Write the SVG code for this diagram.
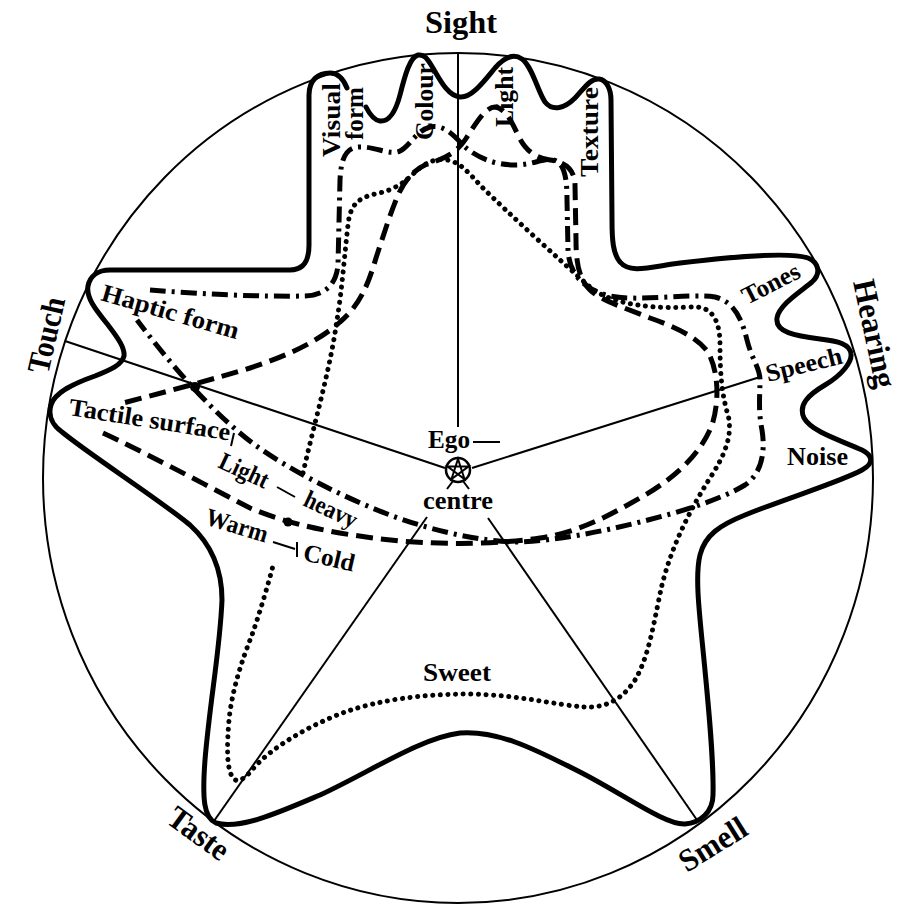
<svg xmlns="http://www.w3.org/2000/svg" width="903" height="907" viewBox="0 0 903 907">
<style>
.thin{fill:none;stroke:#000;stroke-width:2}
.thick{fill:none;stroke:#000;stroke-width:5;stroke-linejoin:round;stroke-linecap:round}
.dd{fill:none;stroke:#000;stroke-width:5;stroke-dasharray:16 6 3 6}
.ld{fill:none;stroke:#000;stroke-width:5;stroke-dasharray:17 8}
.dot{fill:none;stroke:#000;stroke-width:5;stroke-linecap:round;stroke-dasharray:0.1 7.5}
text{font-family:"Liberation Serif","Times New Roman",serif;font-weight:bold;fill:#000}
.big{font-size:32px}
.lab{font-size:25px}
</style>
<rect width="903" height="907" fill="#fff"/>
<g id="frame">
<ellipse class="thin" cx="458" cy="478" rx="415" ry="425"/>
</g>
<g id="connectors">
<line class="thin" x1="458" y1="53" x2="458" y2="427"/>
<line class="thin" x1="65" y1="341" x2="445" y2="468"/>
<line class="thin" x1="472" y1="468" x2="760" y2="377"/>
<line class="thin" x1="427" y1="517" x2="214" y2="821"/>
<line class="thin" x1="488" y1="518" x2="697" y2="820"/>
</g>
<g id="outline">
<path class="thick" d="M347,88 C343,78 337,73 330,73 C318,73 309,80 309,95 L309,245 C309,262 303,270 290,270 L110,270 C98,270 90,276 88,286 C86,298 96,310 108,325 C118,338 125,348 124,356 C122,365 110,370 95,376 C75,383 55,392 51,405 C48,415 52,425 62,432 C90,455 160,500 190,525 C212,545 222,570 222,600 C220,650 210,700 205,760 C202,800 204,818 216,823 C240,830 280,812 320,795 C370,772 420,738 460,733 C500,730 540,752 580,772 C625,795 665,825 685,824 C700,823 713,812 713,795 C714,760 708,700 703,650 C699,610 695,575 700,555 C705,535 720,525 745,515 C790,497 840,482 862,470 C875,463 872,455 862,450 C840,440 812,432 804,418 C798,405 808,395 825,385 C842,375 852,362 851,354 C850,344 838,341 820,339 C795,336 775,332 777,318 C779,305 800,292 812,282 C822,273 818,262 808,258 C790,252 730,257 680,263 C650,267 630,274 620,262 C613,254 612,240 612,220 L611,100 C611,90 607,80 599,79 C590,78 583,90 575,98 C565,108 553,112 545,102 C538,92 532,66 522,59 C512,52 502,60 495,68 C485,80 472,98 460,97 C448,96 440,80 433,68 C428,60 425,54 418,55 C410,57 405,75 400,95 C396,110 390,122 380,121 C373,120 369,113 366,107"/>
</g>
<g id="haptic-curve">
<path class="dd" d="M150,290 C200,294 260,297 305,296 C325,295 336,285 338,265 L340,180 C341,160 345,148 358,147 C375,146 390,156 400,151 C410,146 416,131 430,127 C445,124 455,137 465,147 C478,158 495,165 515,165 C535,165 548,155 558,162 C566,168 567,185 567,200 L568,250 C569,275 585,290 610,296 C640,302 690,293 715,297 C735,302 742,320 747,340 C752,360 760,368 760,380 C760,395 758,410 762,430 C766,455 760,475 745,485 C720,500 680,512 640,522 C600,532 560,540 520,542 C480,542 430,530 390,515 C340,496 290,470 255,445 C215,415 175,370 137,320"/>
</g>
<g id="tactile-curve">
<path class="ld" d="M103,433 C140,450 200,482 250,508 C290,525 340,535 400,541 C450,545 500,544 540,538 C580,532 610,515 640,498 C675,478 700,455 712,425 C720,400 718,370 708,352 C695,335 670,325 650,318 C625,308 600,300 590,290 C578,278 576,260 576,240 L575,185 C575,170 565,162 550,160 C535,158 525,150 518,135 C512,122 505,108 495,107 C485,107 475,125 465,140 C455,155 440,160 425,165 C410,172 402,185 396,200 C388,220 382,240 376,258 C368,285 360,305 340,322 C320,340 290,355 250,368 C200,383 150,396 123,403"/>
<circle cx="195" cy="387" r="5"/>
<circle cx="288" cy="522" r="4.5"/>
</g>
<g id="sight-curve">
<path class="dot" d="M303,473 C315,420 330,370 337,320 C342,290 345,250 348,225 C350,205 358,198 375,194 C395,190 405,182 415,172 C425,163 435,158 447,160 C460,162 468,172 480,185 C510,215 560,260 590,287 C605,300 640,310 690,307 C712,305 720,320 720,345 C720,375 722,395 728,415 C733,435 725,455 710,478 C690,510 672,545 662,585 C655,615 650,655 635,680 C622,700 605,708 585,707 C555,705 520,695 470,694 C420,694 380,700 345,712 C310,725 270,748 252,770 C245,778 238,784 233,778 C226,768 227,745 229,720 C232,690 242,660 252,635 C260,612 268,585 274,562"/>
</g>
<g id="ego">
<circle cx="458" cy="470" r="12" fill="none" stroke="#000" stroke-width="2.5"/>
<polygon points="458,459 464.5,479 447.5,466.6 468.5,466.6 451.5,479" fill="none" stroke="#000" stroke-width="2"/>
<line class="thin" x1="453" y1="481" x2="447" y2="489"/>
<line class="thin" x1="463" y1="481" x2="469" y2="489"/>
<text class="lab" x="428" y="448" textLength="42" lengthAdjust="spacingAndGlyphs">Ego</text>
<line class="thin" x1="473" y1="442" x2="500" y2="442"/>
<text class="lab" x="423" y="509" textLength="70" lengthAdjust="spacingAndGlyphs">centre</text>
</g>
<g id="sense-labels">
<text class="big" x="461" y="33" text-anchor="middle" textLength="72" lengthAdjust="spacingAndGlyphs">Sight</text>
<text class="big" transform="translate(48,375) rotate(-77)" textLength="77" lengthAdjust="spacingAndGlyphs">Touch</text>
<text class="big" transform="translate(853,282) rotate(78)" textLength="110" lengthAdjust="spacingAndGlyphs">Hearing</text>
<text class="big" transform="translate(165,822) rotate(36)" textLength="68" lengthAdjust="spacingAndGlyphs">Taste</text>
<text class="big" transform="translate(687,873) rotate(-32)" textLength="74" lengthAdjust="spacingAndGlyphs">Smell</text>
</g>
<g id="sight-labels">
<text class="lab" transform="translate(340,157) rotate(-90)" textLength="74" lengthAdjust="spacingAndGlyphs">Visual</text>
<text class="lab" transform="translate(363,140) rotate(-90)" textLength="53" lengthAdjust="spacingAndGlyphs">form</text>
<text class="lab" transform="translate(433,140) rotate(-90)" textLength="77" lengthAdjust="spacingAndGlyphs">Colour</text>
<text class="lab" transform="translate(513,127) rotate(-90)" textLength="60" lengthAdjust="spacingAndGlyphs">Light</text>
<text class="lab" transform="translate(598,177) rotate(-90)" textLength="90" lengthAdjust="spacingAndGlyphs">Texture</text>
</g>
<g id="touch-labels">
<text class="lab" font-size="26" transform="translate(100,300) rotate(16)" textLength="142" lengthAdjust="spacingAndGlyphs">Haptic  form</text>
<text class="lab" transform="translate(68,415) rotate(9)" textLength="163" lengthAdjust="spacingAndGlyphs">Tactile surface</text>
<line class="thin" x1="234" y1="433" x2="231" y2="446"/>
<text class="lab" transform="translate(217,467) rotate(25)" textLength="52" lengthAdjust="spacingAndGlyphs">Light</text>
<line class="thin" x1="277" y1="487" x2="295" y2="497"/>
<text class="lab" transform="translate(302,505) rotate(25)" textLength="56" lengthAdjust="spacingAndGlyphs">heavy</text>
<text class="lab" transform="translate(204,524) rotate(17)" textLength="64" lengthAdjust="spacingAndGlyphs">Warm</text>
<line class="thin" x1="273" y1="542" x2="295" y2="549"/>
<line class="thin" x1="297" y1="542" x2="297" y2="557"/>
<text class="lab" transform="translate(302,560) rotate(13)" textLength="52" lengthAdjust="spacingAndGlyphs">Cold</text>
</g>
<g id="hearing-labels">
<text class="lab" transform="translate(747,305) rotate(-27)" textLength="62" lengthAdjust="spacingAndGlyphs">Tones</text>
<text class="lab" transform="translate(768,382) rotate(-14)" textLength="78" lengthAdjust="spacingAndGlyphs">Speech</text>
<text class="lab" x="787" y="465" textLength="61" lengthAdjust="spacingAndGlyphs">Noise</text>
</g>
<g id="taste-labels">
<text class="lab" x="423" y="681" textLength="68" lengthAdjust="spacingAndGlyphs">Sweet</text>
</g>
</svg>
